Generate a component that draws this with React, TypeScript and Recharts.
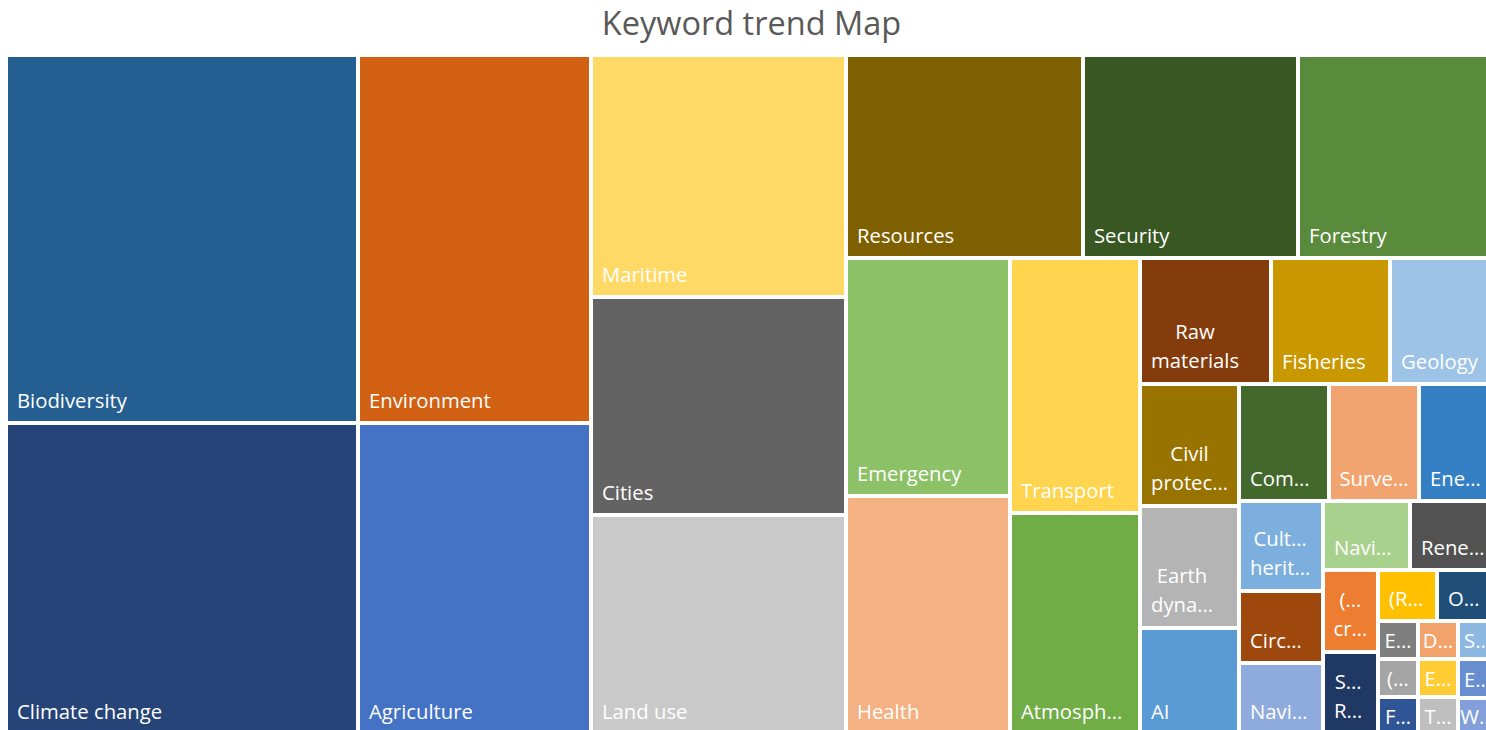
import React from 'react';
import { Treemap } from 'recharts';

// ---- data ----
const title = 'Keyword trend Map';

const categories: string[] = [
  'Biodiversity', 'Climate change', 'Environment', 'Agriculture', 'Maritime', 'Cities', 'Land use',
  'Resources', 'Security', 'Forestry', 'Emergency', 'Health', 'Transport', 'Atmosph…',
  'Raw materials', 'Fisheries', 'Geology', 'Civil protec…', 'Earth dyna…', 'AI',
  'Com…', 'Surve…', 'Ene…', 'Cult… herit…', 'Circ…', 'Navi…', 'Navi…', 'Rene…',
  '(… cr…', 'S… R…', '(R…', 'O…',
  'E…', '(…', 'F…', 'D…', 'S…', 'E…', 'T…', 'E…', 'W…',
];

const counts: number[] = [
  86, 73, 57, 48, 41, 37, 37,
  32, 29, 27, 26, 26, 22, 19,
  11, 10, 9, 8, 8, 7,
  7, 7, 6, 5, 4, 4, 4, 4,
  3, 3, 2, 2,
  1, 1, 1, 1, 1, 1, 1, 1, 1,
];

const colors: string[] = [
  '#255E91', '#264478', '#D16012', '#4472C4', '#FFD966', '#636363', '#C9C9C9',
  '#7F6000', '#385723', '#5A8A3C', '#8CC168', '#F4B183', '#FFD44F', '#70AD47',
  '#843C0C', '#C99800', '#9DC3E6', '#997300', '#B4B4B4', '#5B9BD5',
  '#43682B', '#F1A46F', '#3580C4', '#7CAFDD', '#9E480E', '#8FAADC', '#A9D18E', '#525252',
  '#ED7D31', '#203864', '#FFC000', '#1F4E79',
  '#7F7F7F', '#A5A5A5', '#2F5597', '#F2A26B', '#8DB8E2', '#FFCD33', '#BFBFBF', '#698ED0', '#839FDA',
];

// items laid out together as one strip (as in the reference layout)
const stripIdx: number[] = [20, 21, 22];

// ---- build table for the library ----
type Node = { name: string; value?: number; color?: string; children?: Node[] };
const treeData: Node[] = [];
{
  let strip: Node | null = null;
  categories.forEach((name, i) => {
    const leaf: Node = { name, value: counts[i], color: colors[i] };
    if (stripIdx.includes(i)) {
      if (!strip) {
        strip = { name: 'strip', children: [] };
        treeData.push(strip);
      }
      strip.children!.push(leaf);
    } else {
      treeData.push(leaf);
    }
  });
}

const FONT = "'Open Sans', sans-serif";
const FS = 20.3;

let ctx: CanvasRenderingContext2D | null = null;
function measure(text: string): number {
  try {
    if (!ctx) ctx = document.createElement('canvas').getContext('2d');
    if (ctx) {
      ctx.font = `${FS}px 'Open Sans'`;
      return ctx.measureText(text).width;
    }
  } catch (e) {
    /* ignore */
  }
  return text.length * FS * 0.55;
}

const renderCell = (props: any) => {
  const { x, y, width, height, children, name, color, depth } = props;
  if ((children && children.length) || depth === 0 || !color) return <g />;
  const PAD = 11;
  const full = measure(name);
  let lines: string[] = [name];
  if (full + 2 * PAD > width && name.indexOf(' ') > 0) lines = name.split(' ');
  const widths = lines.map(measure);
  const blockW = Math.max(...widths);
  const texts: React.ReactNode[] = [];
  if (lines.length === 1) {
    const baseline = Math.max(y + height - 15.5, y + height / 2 + 8);
    const fits = blockW + 2 * PAD <= width;
    texts.push(
      <text key="t0" x={fits ? x + PAD : x + width / 2} y={baseline} textAnchor={fits ? 'start' : 'middle'}
        fill="#fff" fontFamily={FONT} fontSize={FS}>{lines[0]}</text>,
    );
  } else {
    const last = y + height - 16.5;
    const fits = blockW + 2 * PAD <= width;
    const cx = fits ? x + PAD + blockW / 2 : x + width / 2;
    lines.forEach((ln, i) => {
      texts.push(
        <text key={'t' + i} x={cx} y={last - (lines.length - 1 - i) * 29} textAnchor="middle"
          fill="#fff" fontFamily={FONT} fontSize={FS}>{ln}</text>,
      );
    });
  }
  return (
    <g>
      <rect x={x} y={y} width={width} height={height} fill={color} stroke="#fff" strokeWidth={4} />
      {texts}
    </g>
  );
};

export default function App() {
  return (
    <div style={{ position: 'fixed', left: 0, top: 0, width: 1486, height: 730, overflow: 'hidden', background: '#fff' }}>
      <svg width={1486} height={55} style={{ position: 'absolute', left: 0, top: 0 }}>
        <text x={751.5} y={34.5} textAnchor="middle" fill="#595959" fontFamily={FONT} fontSize={32.5}>{title}</text>
      </svg>
      <div style={{ position: 'absolute', left: 6, top: 55 }}>
        <Treemap
          width={1491}
          height={679}
          data={treeData}
          dataKey="value"
          nameKey="name"
          aspectRatio={0.8}
          isAnimationActive={false}
          content={renderCell}
        />
      </div>
    </div>
  );
}
